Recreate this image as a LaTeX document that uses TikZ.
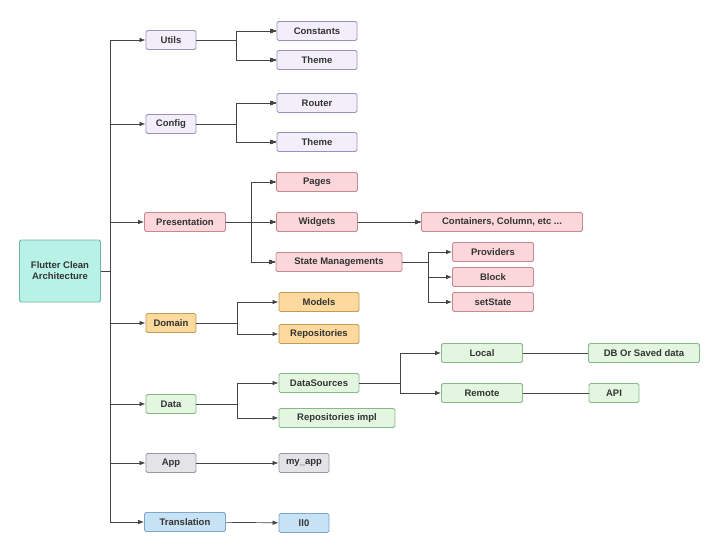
\documentclass[tikz,border=0pt]{standalone}
\usepackage{fontspec}
\setmainfont{Liberation Sans}
\usetikzlibrary{arrows.meta}
\definecolor{lavfill}{HTML}{F2EFFB}\definecolor{lavline}{HTML}{9C90BE}
\definecolor{pinkfill}{HTML}{FBD6DA}\definecolor{pinkline}{HTML}{C88A91}
\definecolor{orfill}{HTML}{FCD99C}\definecolor{orline}{HTML}{C29B57}
\definecolor{grfill}{HTML}{E2F6E0}\definecolor{grline}{HTML}{8BB889}
\definecolor{gyfill}{HTML}{E3E3E8}\definecolor{gyline}{HTML}{9A9AA2}
\definecolor{blfill}{HTML}{C7E1F5}\definecolor{blline}{HTML}{7DA7C9}
\definecolor{rtfill}{HTML}{B8F2E6}\definecolor{rtline}{HTML}{6DB5A8}
\definecolor{wire}{HTML}{444444}
\tikzset{
  box/.style={draw, rounded corners=1.5pt, line width=0.9pt, minimum height=19pt,
    inner sep=2pt, font=\bfseries\fontsize{9.5}{11}\selectfont, text=black!80},
  lav/.style={box, fill=lavfill, draw=lavline},
  pink/.style={box, fill=pinkfill, draw=pinkline},
  ora/.style={box, fill=orfill, draw=orline},
  gre/.style={box, fill=grfill, draw=grline},
  gry/.style={box, fill=gyfill, draw=gyline},
  blu/.style={box, fill=blfill, draw=blline},
  arr/.style={draw=wire, line width=0.7pt, -{Latex[length=6pt,width=4.5pt]}},
}
\newcommand{\conn}[3]{\draw[arr] (#1.east) -- (#1.east -| #3) |- (#2.west);}
\begin{document}
\begin{tikzpicture}[x=1pt,y=-1pt]
  \useasboundingbox (0,0) rectangle (720,554);
  % root
  \node[box, fill=rtfill, draw=rtline, minimum width=81pt, minimum height=62pt, align=center]
    (root) at (60,271) {Flutter Clean\\Architecture};
  % first level
  \node[lav, minimum width=50pt] (utils) at (171,40) {Utils};
  \node[lav, minimum width=50pt] (config) at (171,124) {Config};
  \node[pink, minimum width=81pt] (pres) at (185,222) {Presentation};
  \node[ora, minimum width=50pt] (domain) at (171,323) {Domain};
  \node[gre, minimum width=50pt] (data) at (171,404) {Data};
  \node[gry, minimum width=50pt] (app) at (171,463) {App};
  \node[blu, minimum width=81pt] (trans) at (185,522) {Translation};
  % second level
  \node[lav, minimum width=80pt] (const) at (317,31) {Constants};
  \node[lav, minimum width=80pt] (theme) at (317,60) {Theme};
  \node[lav, minimum width=80pt] (router) at (317,103) {Router};
  \node[lav, minimum width=80pt] (themeb) at (317,142) {Theme};
  \node[pink, minimum width=81pt] (pages) at (317,182) {Pages};
  \node[pink, minimum width=81pt] (widgets) at (317,222) {Widgets};
  \node[pink, minimum width=126pt] (state) at (339,262) {State Managements};
  \node[ora, minimum width=80pt] (models) at (319,302) {Models};
  \node[ora, minimum width=80pt] (repos) at (319,334) {Repositories};
  \node[gre, minimum width=80pt] (sources) at (319,383) {DataSources};
  \node[gre, minimum width=116pt] (reposimpl) at (337,418) {Repositories impl};
  \node[gry, minimum width=50pt] (myapp) at (304,463) {my\_app};
  \node[blu, minimum width=50pt] (llo) at (304,523) {ll0};
  % third level
  \node[pink, minimum width=161pt] (contain) at (502,222) {Containers, Column, etc ...};
  \node[pink, minimum width=81pt] (prov) at (493,252) {Providers};
  \node[pink, minimum width=81pt] (block) at (493,277) {Block};
  \node[pink, minimum width=81pt] (setst) at (493,302) {setState};
  \node[gre, minimum width=81pt] (local) at (482,353) {Local};
  \node[gre, minimum width=81pt] (remote) at (482,393) {Remote};
  \node[gre, minimum width=111pt] (db) at (644,353) {DB Or Saved data};
  \node[gre, minimum width=50pt] (api) at (614,393) {API};
  % branch lines
  \coordinate (trunk) at (110,0);
  \coordinate (bu) at (236,0);
  \coordinate (bp) at (251,0);
  \coordinate (bd) at (237,0);
  \coordinate (bs) at (428,0);
  \coordinate (bds) at (400,0);
  \foreach \n in {utils,config,pres,domain,data,app,trans}
    \conn{root}{\n}{trunk}
  \conn{utils}{const}{bu} \conn{utils}{theme}{bu}
  \conn{config}{router}{bu} \conn{config}{themeb}{bu}
  \conn{pres}{pages}{bp} \conn{pres}{widgets}{bp} \conn{pres}{state}{bp}
  \draw[arr] (widgets) -- (contain);
  \conn{state}{prov}{bs} \conn{state}{block}{bs} \conn{state}{setst}{bs}
  \conn{domain}{models}{bd} \conn{domain}{repos}{bd}
  \conn{data}{sources}{bd} \conn{data}{reposimpl}{bd}
  \conn{sources}{local}{bds} \conn{sources}{remote}{bds}
  \draw[wire, line width=0.7pt] (local) -- (db);
  \draw[wire, line width=0.7pt] (remote) -- (api);
  \draw[arr] (app) -- (myapp);
  \draw[arr] (trans) -- (llo);
\end{tikzpicture}
\end{document}
